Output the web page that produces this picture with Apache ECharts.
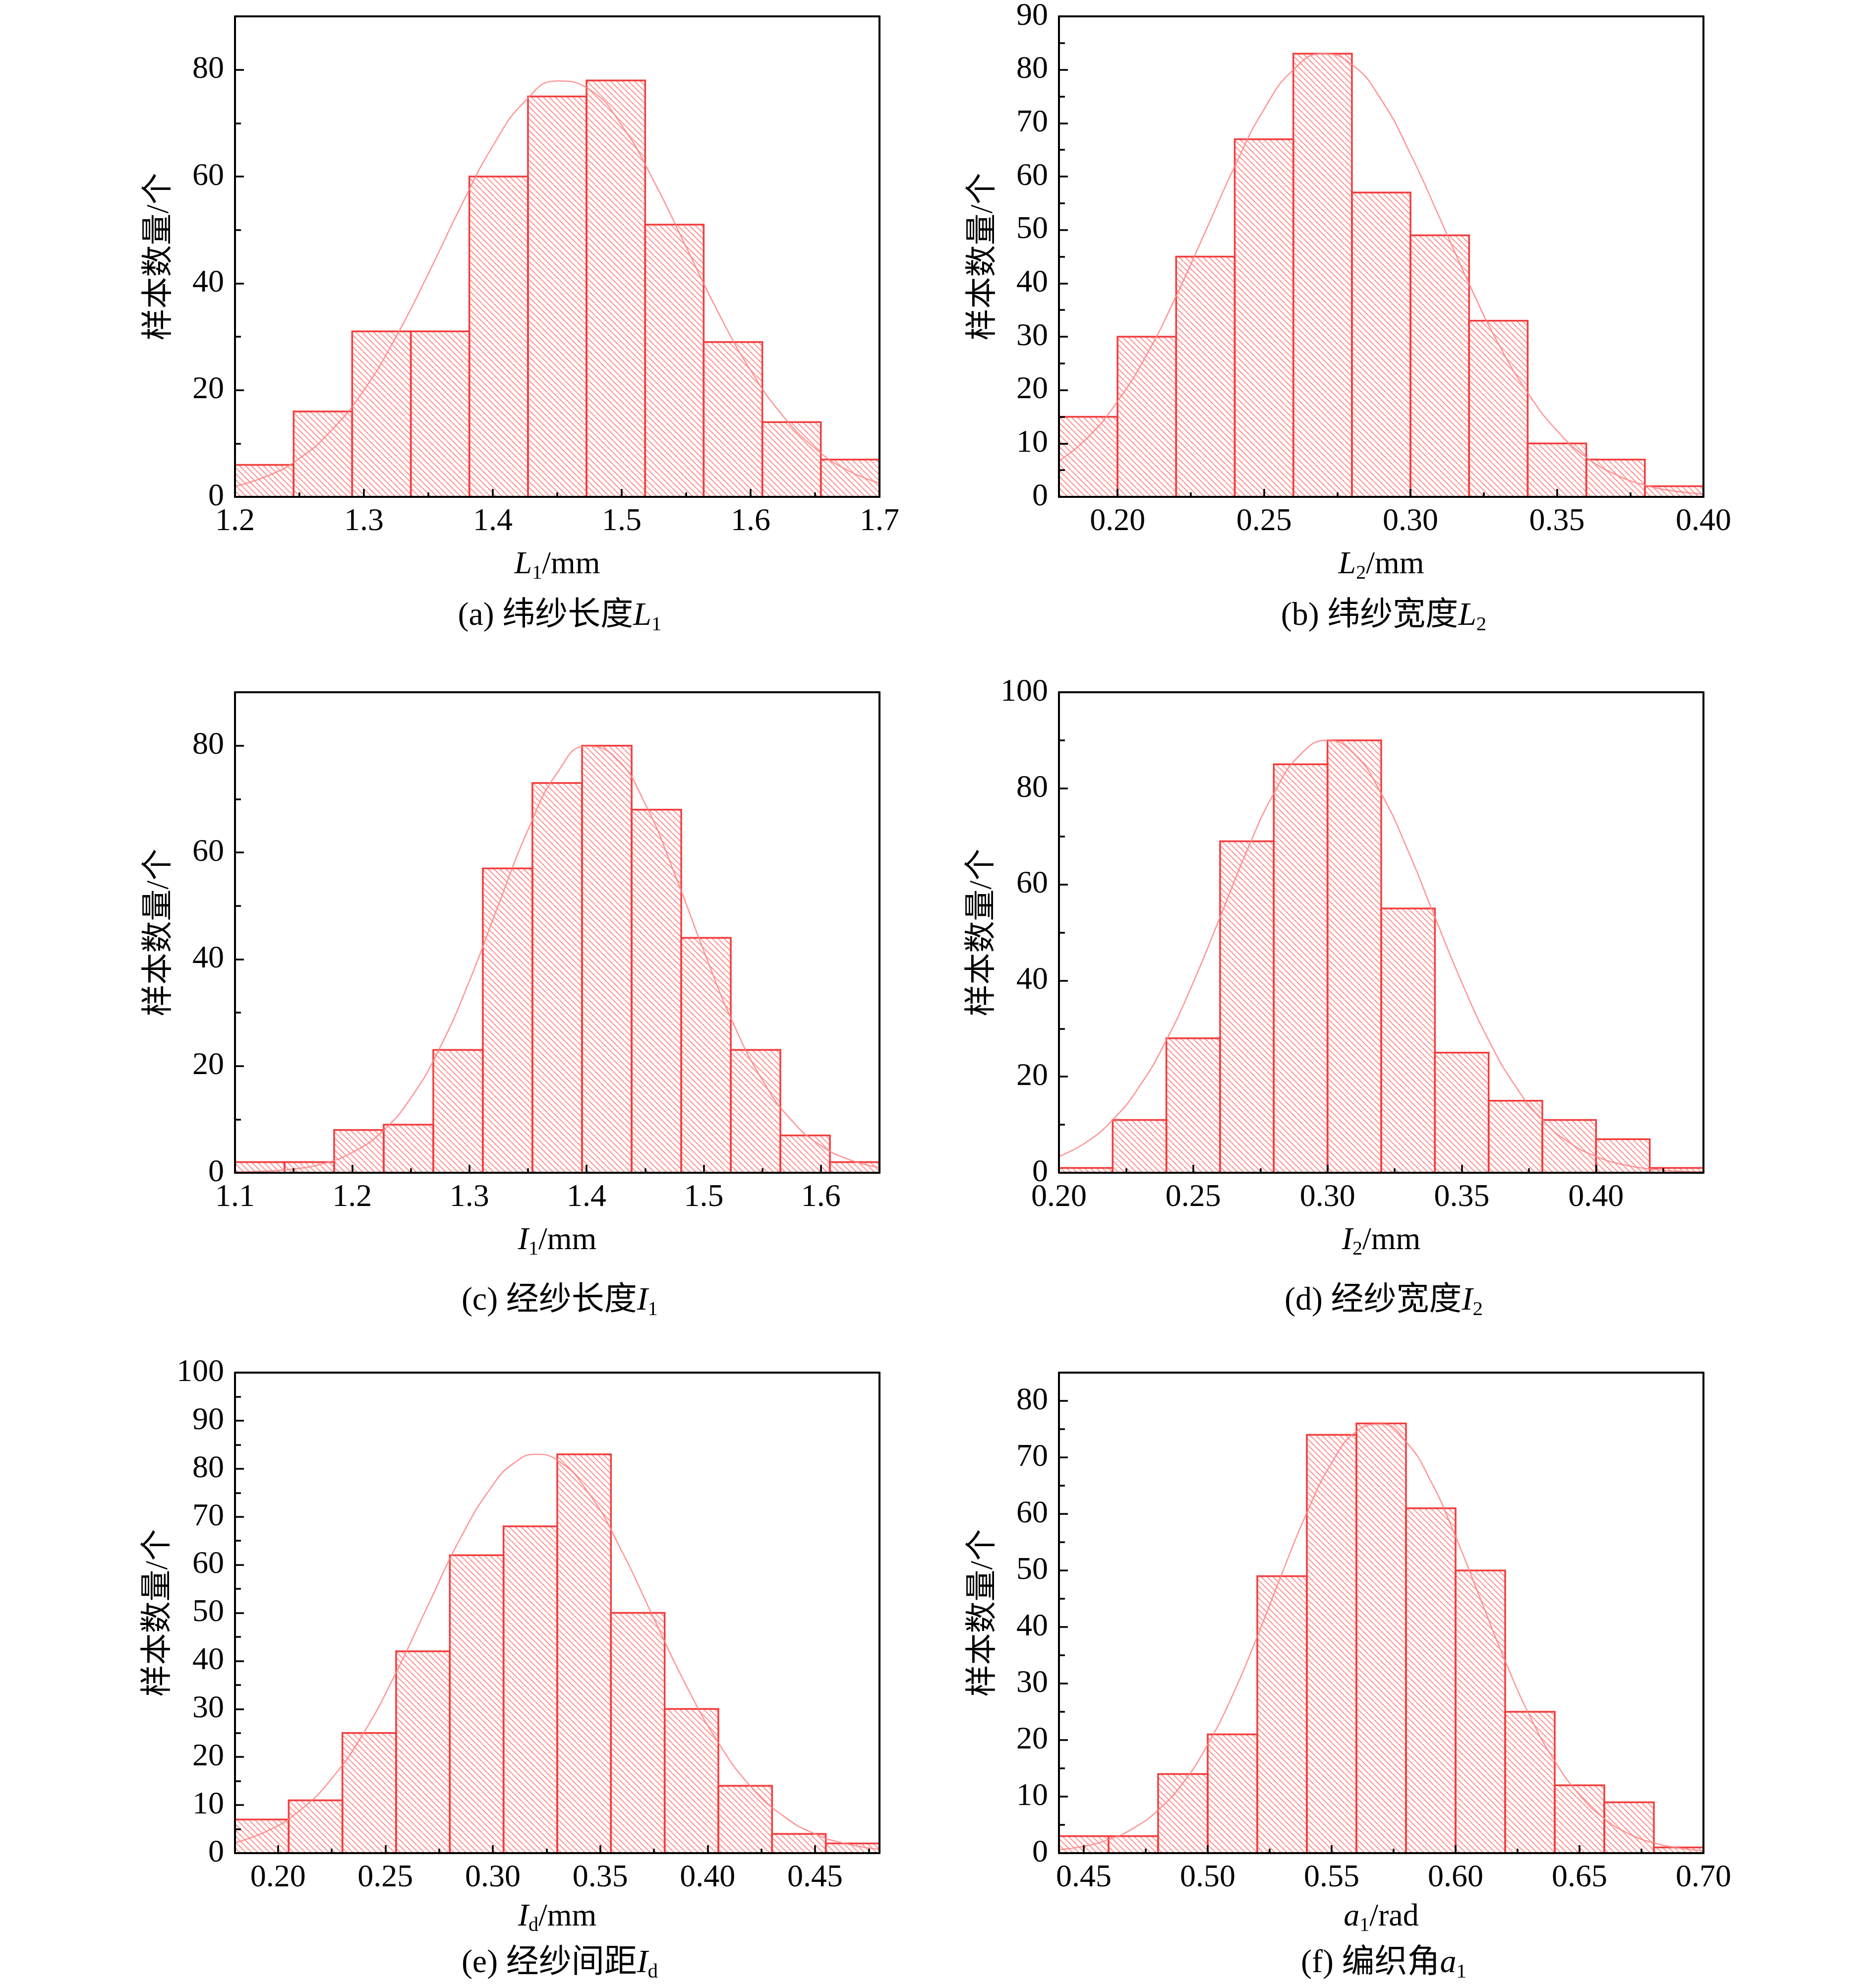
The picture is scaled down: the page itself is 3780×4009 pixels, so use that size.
<!DOCTYPE html>
<html>
<head>
<meta charset="utf-8">
<script src="https://cdn.jsdelivr.net/npm/echarts@6/dist/echarts.min.js"></script>
<style>
html, body { margin: 0; padding: 0; background: #fff; }
#main { width: 3780px; height: 4009px; }
</style>
</head>
<body>
<div id="main"></div>
<script>
// ---- data ----
// (a) weft yarn length L1
var edgesA = [1.2, 1.2455, 1.2909, 1.3364, 1.3818, 1.4273, 1.4727, 1.5182, 1.5636, 1.6091, 1.6545, 1.7];
var countsA = [6, 16, 31, 31, 60, 75, 78, 51, 29, 14, 7];
var curveA = [[1.2, 2.0], [1.225, 3.9], [1.25, 7.2], [1.275, 12.5], [1.3, 20.0], [1.325, 30.0], [1.35, 41.8],
    [1.375, 54.3], [1.4, 65.7], [1.425, 74.1], [1.45, 77.9], [1.475, 76.3], [1.5, 69.6], [1.525, 59.1],
    [1.55, 46.8], [1.575, 34.5], [1.6, 23.7], [1.625, 15.2], [1.65, 9.1], [1.675, 5.0], [1.7, 2.6]];
var xTicksA = [1.2, 1.3, 1.4, 1.5, 1.6, 1.7];
var xMinorA = [1.25, 1.35, 1.45, 1.55, 1.65];
var yTicksA = [0, 20, 40, 60, 80];
var yMinorA = [10, 30, 50, 70];

// (b) weft yarn width L2
var edgesB = [0.18, 0.20, 0.22, 0.24, 0.26, 0.28, 0.30, 0.32, 0.34, 0.36, 0.38, 0.40];
var countsB = [15, 30, 45, 67, 83, 57, 49, 33, 10, 7, 2];
var curveB = [[0.18, 6.7], [0.19, 11.2], [0.20, 17.9], [0.21, 26.7], [0.22, 37.6], [0.23, 49.7], [0.24, 61.9],
    [0.25, 72.6], [0.26, 80.0], [0.27, 83.0], [0.28, 81.0], [0.29, 74.4], [0.30, 64.2], [0.31, 52.2],
    [0.32, 39.9], [0.33, 28.7], [0.34, 19.5], [0.35, 12.4], [0.36, 7.4], [0.37, 4.2], [0.38, 2.2],
    [0.39, 1.1], [0.40, 0.5]];
var xTicksB = [0.20, 0.25, 0.30, 0.35, 0.40];
var xMinorB = [0.225, 0.275, 0.325, 0.375];
var yTicksB = [0, 10, 20, 30, 40, 50, 60, 70, 80, 90];
var yMinorB = [5, 15, 25, 35, 45, 55, 65, 75, 85];

// (c) warp yarn length I1
var edgesC = [1.1, 1.1423, 1.1846, 1.2269, 1.2692, 1.3115, 1.3538, 1.3962, 1.4385, 1.4808, 1.5231, 1.5654, 1.6077, 1.65];
var countsC = [2, 2, 8, 9, 23, 57, 73, 80, 68, 44, 23, 7, 2];
var curveC = [[1.1, 0.1], [1.125, 0.3], [1.15, 0.7], [1.175, 1.7], [1.2, 3.8], [1.225, 7.6], [1.25, 14.0],
    [1.275, 23.5], [1.3, 35.9], [1.325, 50.3], [1.35, 64.2], [1.375, 74.9], [1.4, 79.9], [1.425, 77.7],
    [1.45, 69.1], [1.475, 56.1], [1.5, 41.6], [1.525, 28.1], [1.55, 17.4], [1.575, 9.8], [1.6, 5.1],
    [1.625, 2.4], [1.65, 1.0]];
var xTicksC = [1.1, 1.2, 1.3, 1.4, 1.5, 1.6];
var xMinorC = [1.15, 1.25, 1.35, 1.45, 1.55];
var yTicksC = [0, 20, 40, 60, 80];
var yMinorC = [10, 30, 50, 70];

// (d) warp yarn width I2
var edgesD = [0.20, 0.22, 0.24, 0.26, 0.28, 0.30, 0.32, 0.34, 0.36, 0.38, 0.40, 0.42, 0.44];
var countsD = [1, 11, 28, 69, 85, 90, 55, 25, 15, 11, 7, 1];
var curveD = [[0.20, 3.4], [0.21, 6.3], [0.22, 11.0], [0.23, 18.0], [0.24, 27.6], [0.25, 39.6], [0.26, 53.2],
    [0.27, 67.0], [0.28, 78.9], [0.29, 87.1], [0.30, 90.0], [0.31, 87.1], [0.32, 78.9], [0.33, 67.0],
    [0.34, 53.2], [0.35, 39.6], [0.36, 27.6], [0.37, 18.0], [0.38, 11.0], [0.39, 6.3], [0.40, 3.4],
    [0.41, 1.7], [0.42, 0.8], [0.43, 0.35], [0.44, 0.14]];
var xTicksD = [0.20, 0.25, 0.30, 0.35, 0.40];
var xMinorD = [0.225, 0.275, 0.325, 0.375, 0.425];
var yTicksD = [0, 20, 40, 60, 80, 100];
var yMinorD = [10, 30, 50, 70, 90];

// (e) warp yarn spacing Id
var edgesE = [0.18, 0.205, 0.23, 0.255, 0.28, 0.305, 0.33, 0.355, 0.38, 0.405, 0.43, 0.455, 0.48];
var countsE = [7, 11, 25, 42, 62, 68, 83, 50, 30, 14, 4, 2];
var curveE = [[0.18, 2.2], [0.195, 4.6], [0.21, 8.8], [0.225, 15.5], [0.24, 25.1], [0.255, 37.6], [0.27, 51.7],
    [0.285, 65.6], [0.30, 76.6], [0.31, 81.2], [0.32, 83.0], [0.33, 81.8], [0.345, 74.7], [0.36, 62.9], [0.375, 48.8],
    [0.39, 34.9], [0.405, 23.0], [0.42, 13.9], [0.435, 7.8], [0.45, 4.0], [0.465, 1.9], [0.48, 0.8]];
var xTicksE = [0.20, 0.25, 0.30, 0.35, 0.40, 0.45];
var xMinorE = [0.225, 0.275, 0.325, 0.375, 0.425, 0.475];
var yTicksE = [0, 10, 20, 30, 40, 50, 60, 70, 80, 90, 100];
var yMinorE = [5, 15, 25, 35, 45, 55, 65, 75, 85, 95];

// (f) braiding angle a1
var edgesF = [0.44, 0.46, 0.48, 0.50, 0.52, 0.54, 0.56, 0.58, 0.60, 0.62, 0.64, 0.66, 0.68, 0.70];
var countsF = [3, 3, 14, 21, 49, 74, 76, 61, 50, 25, 12, 9, 1];
var curveF = [[0.44, 0.6], [0.45, 1.2], [0.46, 2.4], [0.47, 4.4], [0.48, 7.6], [0.49, 12.4], [0.50, 19.2],
    [0.51, 27.9], [0.52, 38.3], [0.53, 49.5], [0.54, 60.2], [0.55, 69.0], [0.56, 74.6], [0.57, 75.9],
    [0.58, 72.8], [0.59, 65.8], [0.60, 56.0], [0.61, 45.0], [0.62, 34.0], [0.63, 24.2], [0.64, 16.3],
    [0.65, 10.3], [0.66, 6.1], [0.67, 3.4], [0.68, 1.8], [0.69, 0.9], [0.70, 0.4]];
var xTicksF = [0.45, 0.50, 0.55, 0.60, 0.65, 0.70];
var xMinorF = [0.475, 0.525, 0.575, 0.625, 0.675];
var yTicksF = [0, 10, 20, 30, 40, 50, 60, 70, 80];
var yMinorF = [5, 15, 25, 35, 45, 55, 65, 75];

var panels = [
    {edges: edgesA, counts: countsA, curve: curveA, xr: [1.2, 1.7], yr: [0, 90], xt: xTicksA, xm: xMinorA, yt: yTicksA, ym: yMinorA,
        digits: 1, name: ['L', '1', '/mm'], caption: ['(a) 纬纱长度', 'L', '1']},
    {edges: edgesB, counts: countsB, curve: curveB, xr: [0.18, 0.40], yr: [0, 90], xt: xTicksB, xm: xMinorB, yt: yTicksB, ym: yMinorB,
        digits: 2, name: ['L', '2', '/mm'], caption: ['(b) 纬纱宽度', 'L', '2']},
    {edges: edgesC, counts: countsC, curve: curveC, xr: [1.1, 1.65], yr: [0, 90], xt: xTicksC, xm: xMinorC, yt: yTicksC, ym: yMinorC,
        digits: 1, name: ['I', '1', '/mm'], caption: ['(c) 经纱长度', 'I', '1']},
    {edges: edgesD, counts: countsD, curve: curveD, xr: [0.20, 0.44], yr: [0, 100], xt: xTicksD, xm: xMinorD, yt: yTicksD, ym: yMinorD,
        digits: 2, name: ['I', '2', '/mm'], caption: ['(d) 经纱宽度', 'I', '2']},
    {edges: edgesE, counts: countsE, curve: curveE, xr: [0.18, 0.48], yr: [0, 100], xt: xTicksE, xm: xMinorE, yt: yTicksE, ym: yMinorE,
        digits: 2, name: ['I', 'd', '/mm'], caption: ['(e) 经纱间距', 'I', 'd']},
    {edges: edgesF, counts: countsF, curve: curveF, xr: [0.44, 0.70], yr: [0, 85], xt: xTicksF, xm: xMinorF, yt: yTicksF, ym: yMinorF,
        digits: 2, name: ['a', '1', '/rad'], caption: ['(f) 编织角', 'a', '1']}
];

// ---- layout / style ----
var colLeft = [474, 2136];
var rowTop = [33, 1396, 2768];
var nameGapRow = [100, 100, 92];
var captionGapRow = [198, 216, 180];
var gridW = 1300, gridH = 969;
var font = "'Liberation Serif', 'Noto Sans CJK SC', serif";
var fs = 64;
var red = '#f43c3c';

function makeHatch() {
    var c = document.createElement('canvas');
    c.width = 12;
    c.height = 12;
    var ctx = c.getContext('2d');
    ctx.strokeStyle = '#ff8e8e';
    ctx.lineWidth = 2;
    ctx.beginPath();
    [-12, 0, 12].forEach(function (o) {
        ctx.moveTo(o, 0);
        ctx.lineTo(o + 12, 12);
    });
    ctx.stroke();
    return c;
}
var hatch = {image: makeHatch(), repeat: 'repeat'};

function richFor(size) {
    return {
        n: {fontFamily: font, fontSize: size, fontWeight: 'normal', color: '#000'},
        i: {fontFamily: font, fontSize: size, fontStyle: 'italic', fontWeight: 'normal', color: '#000'},
        s: {fontFamily: font, fontSize: Math.round(size * 0.62), fontWeight: 'normal', color: '#000', padding: [Math.round(size * 0.53), 0, 0, 0]}
    };
}

function renderBin(params, api) {
    var p0 = api.coord([api.value(0), 0]);
    var p1 = api.coord([api.value(1), api.value(2)]);
    return {
        type: 'rect',
        shape: {x: p0[0], y: p1[1], width: p1[0] - p0[0], height: p0[1] - p1[1]},
        style: {fill: hatch, stroke: red, lineWidth: 3.5}
    };
}

var lineBlack = {color: '#000', width: 4};
var tickBlack = {color: '#000', width: 3.5};

var grids = [], xAxes = [], yAxes = [], series = [], titles = [];

panels.forEach(function (p, k) {
    var row = Math.floor(k / 2);
    var left = colLeft[k % 2], top = rowTop[row];
    grids.push({left: left, top: top, width: gridW, height: gridH, containLabel: false});

    // main bottom axis with labels and major ticks
    xAxes.push({
        gridIndex: k, type: 'value', min: p.xr[0], max: p.xr[1], position: 'bottom', z: 10,
        axisLine: {show: true, onZero: false, lineStyle: lineBlack},
        axisTick: {show: true, inside: true, length: 16, lineStyle: tickBlack, customValues: p.xt},
        axisLabel: {
            customValues: p.xt, margin: 18, fontFamily: font, fontSize: fs, color: '#000',
            formatter: (function (d) { return function (v) { return v.toFixed(d); }; })(p.digits)
        },
        splitLine: {show: false},
        name: '{i|' + p.name[0] + '}{s|' + p.name[1] + '}{n|' + p.name[2] + '}',
        nameLocation: 'middle', nameGap: nameGapRow[row],
        nameTextStyle: {fontFamily: font, fontSize: fs, color: '#000', rich: richFor(fs)}
    });
    // minor ticks
    xAxes.push({
        gridIndex: k, type: 'value', min: p.xr[0], max: p.xr[1], position: 'bottom', z: 10,
        axisLine: {show: false},
        axisTick: {show: true, inside: true, length: 9, lineStyle: tickBlack, customValues: p.xm},
        axisLabel: {show: false}, splitLine: {show: false}
    });
    // top frame
    xAxes.push({
        gridIndex: k, type: 'value', min: p.xr[0], max: p.xr[1], position: 'top', z: 10,
        axisLine: {show: true, onZero: false, lineStyle: lineBlack},
        axisTick: {show: false}, axisLabel: {show: false}, splitLine: {show: false}
    });

    yAxes.push({
        gridIndex: k, type: 'value', min: p.yr[0], max: p.yr[1], position: 'left', z: 10,
        axisLine: {show: true, onZero: false, lineStyle: lineBlack},
        axisTick: {show: true, inside: true, length: 18, lineStyle: tickBlack, customValues: p.yt},
        axisLabel: {customValues: p.yt, margin: 22, fontFamily: font, fontSize: fs, color: '#000'},
        splitLine: {show: false},
        name: '样本数量/个', nameLocation: 'middle', nameRotate: 90, nameGap: 120,
        nameTextStyle: {fontFamily: font, fontSize: fs, color: '#000'}
    });
    yAxes.push({
        gridIndex: k, type: 'value', min: p.yr[0], max: p.yr[1], position: 'left', z: 10,
        axisLine: {show: false},
        axisTick: {show: true, inside: true, length: 12, lineStyle: tickBlack, customValues: p.ym},
        axisLabel: {show: false}, splitLine: {show: false}
    });
    yAxes.push({
        gridIndex: k, type: 'value', min: p.yr[0], max: p.yr[1], position: 'right', z: 10,
        axisLine: {show: true, onZero: false, lineStyle: lineBlack},
        axisTick: {show: false}, axisLabel: {show: false}, splitLine: {show: false}
    });

    var bins = p.counts.map(function (c, i) { return [p.edges[i], p.edges[i + 1], c]; });
    series.push({
        type: 'custom', xAxisIndex: 3 * k, yAxisIndex: 3 * k, renderItem: renderBin,
        encode: {x: [0, 1], y: 2}, data: bins, z: 2, silent: true
    });
    series.push({
        type: 'line', xAxisIndex: 3 * k, yAxisIndex: 3 * k, data: p.curve, smooth: true,
        symbol: 'none', showSymbol: false, z: 5, silent: true,
        lineStyle: {color: '#ff8585', width: 2.6, opacity: 0.85}
    });

    titles.push({
        text: '{n|' + p.caption[0] + '}{i|' + p.caption[1] + '}{s|' + p.caption[2] + '}',
        left: left + gridW / 2, top: top + gridH + captionGapRow[row], textAlign: 'center',
        textStyle: {fontFamily: font, fontSize: 66, fontWeight: 'normal', color: '#000', rich: richFor(66)}
    });
});

var chartDom = document.getElementById('main');
var myChart = echarts.init(chartDom, null, {width: 3780, height: 4009});
var option = {
    backgroundColor: '#fff',
    animation: false,
    title: titles,
    grid: grids,
    xAxis: xAxes,
    yAxis: yAxes,
    series: series
};
option && myChart.setOption(option);
</script>
</body>
</html>
